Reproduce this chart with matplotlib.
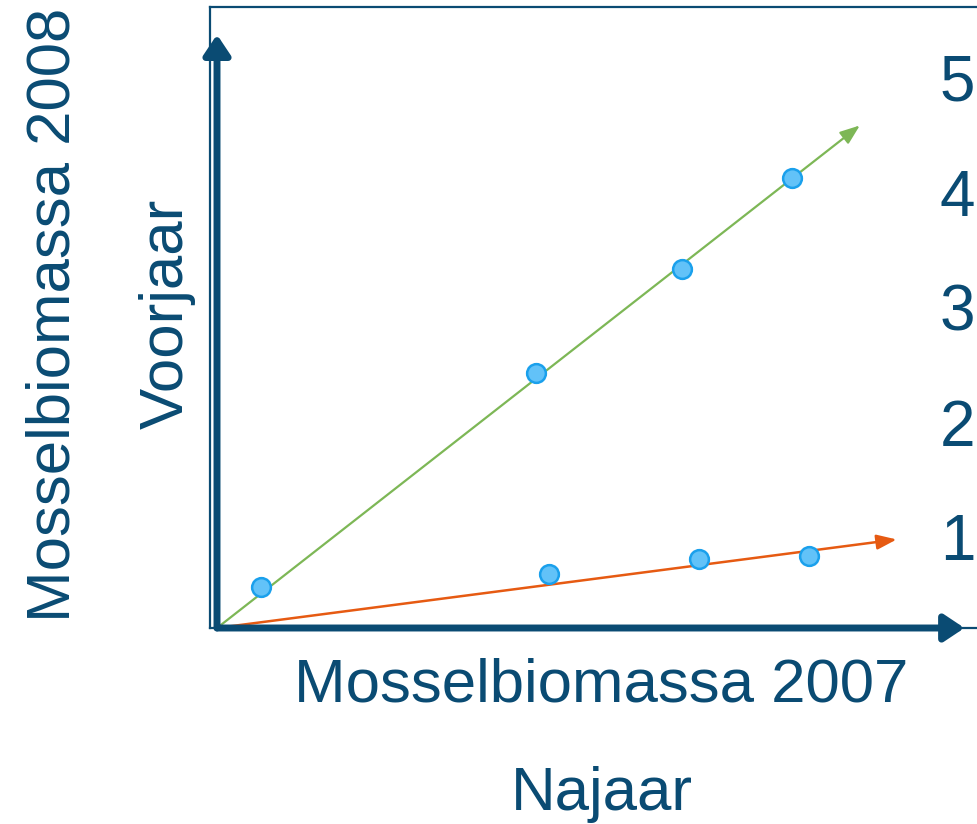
import matplotlib
matplotlib.use('Agg')
import matplotlib.pyplot as plt

# 字体
plt.rcParams['font.family'] = ['Liberation Sans Narrow', 'Liberation Sans', 'DejaVu Sans']

# 数据（najaar 2007 -> voorjaar 2008）
groen_x = [0.38, 2.77, 4.04, 5.00]
groen_y = [0.36, 2.22, 3.12, 3.91]
oranje_x = [2.89, 4.19, 5.15]
oranje_y = [0.47, 0.60, 0.63]
# 趋势线终点
lijn_groen = (5.59, 4.37)
lijn_oranje = (5.91, 0.77)
# 右侧刻度
yticks = [1, 2, 3, 4, 5]

blauw = '#0A4B73'
groen = '#7DB756'
oranje = '#E65A12'

fig = plt.figure(figsize=(9.78, 8.24), dpi=100)
W, H = 978, 824
ax = fig.add_axes([210 / W, (H - 628) / H, (990 - 210) / W, (628 - 7) / H])
ax.set_xlim(-7 / 115, (990 - 217) / 115)
ax.set_ylim(0, (628 - 7) / 115)
ax.set_xticks([])
ax.set_yticks([])
for s in ['left', 'top', 'bottom']:
    ax.spines[s].set_color(blauw)
    ax.spines[s].set_linewidth(1.6)
ax.spines['right'].set_visible(False)

# 趋势线
ax.annotate('', xy=lijn_groen, xytext=(0, 0),
            arrowprops=dict(arrowstyle='-|>,head_length=1.2,head_width=0.45', color=groen,
                            lw=1.6, mutation_scale=10, shrinkA=0, shrinkB=0))
ax.annotate('', xy=lijn_oranje, xytext=(0, 0),
            arrowprops=dict(arrowstyle='-|>,head_length=1.2,head_width=0.45', color=oranje,
                            lw=1.8, mutation_scale=10, shrinkA=0, shrinkB=0))

# 坐标轴箭头
ax.annotate('', xy=(0, 5.16), xytext=(0, 0),
            arrowprops=dict(arrowstyle='-|>,head_length=1.2,head_width=0.8', color=blauw,
                            lw=5, mutation_scale=10, shrinkA=0, shrinkB=0), annotation_clip=False)
ax.annotate('', xy=(6.50, 0), xytext=(0, 0),
            arrowprops=dict(arrowstyle='-|>,head_length=1.2,head_width=0.8', color=blauw,
                            lw=5, mutation_scale=10, shrinkA=0, shrinkB=0), annotation_clip=False)

# 数据点
ax.plot(groen_x, groen_y, 'o', markersize=13.5, markerfacecolor='#62C2F8',
        markeredgecolor='#1AA0EC', markeredgewidth=1.8, zorder=5)
ax.plot(oranje_x, oranje_y, 'o', markersize=13.5, markerfacecolor='#62C2F8',
        markeredgecolor='#1AA0EC', markeredgewidth=1.8, zorder=5)

# 右侧刻度
ax2 = ax.twinx()
ax2.set_ylim((652 - 628) / 115, (652 - 7) / 115)
ax2.set_yticks(yticks)
ax2.tick_params(axis='y', length=0, pad=-36, labelsize=46, labelcolor=blauw)
for s in ax2.spines.values():
    s.set_visible(False)

# 文字
fs = 44.5
fig.text(601 / W, 1 - 702 / H, 'Mosselbiomassa 2007', fontsize=fs, color=blauw,
         ha='center', va='baseline')
fig.text(602 / W, 1 - 810 / H, 'Najaar', fontsize=fs, color=blauw,
         ha='center', va='baseline')
fig.text(70 / W, 1 - 315 / H, 'Mosselbiomassa 2008', fontsize=fs, color=blauw,
         rotation=90, rotation_mode='anchor', ha='center', va='baseline')
fig.text(183 / W, 1 - 314 / H, 'Voorjaar', fontsize=fs, color=blauw,
         rotation=90, rotation_mode='anchor', ha='center', va='baseline')

plt.savefig('out.png', dpi=100)
